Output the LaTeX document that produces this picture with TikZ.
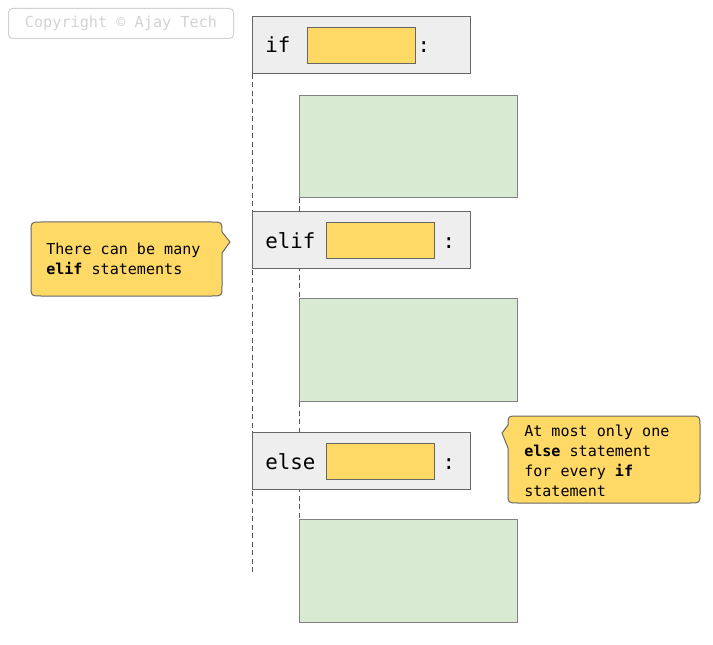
\documentclass[tikz,border=0pt]{standalone}
\usepackage{fontspec}
\setmonofont{DejaVu Sans Mono}
\usetikzlibrary{backgrounds}
\newlength\pxu
\setlength\pxu{0.75pt}
\definecolor{boxgray}{HTML}{EEEEEE}
\definecolor{edgegray}{HTML}{666666}
\definecolor{yel}{HTML}{FFD966}
\definecolor{grn}{HTML}{D9EAD3}
\definecolor{grnedge}{HTML}{828282}
\definecolor{faint}{HTML}{D2D2D2}
\definecolor{dashgray}{HTML}{555555}
\begin{document}
\begin{tikzpicture}[x=0.75pt,y=-0.75pt,
  graybox/.style={draw=edgegray, fill=boxgray, line width=1\pxu, minimum width=218\pxu, minimum height=57\pxu, anchor=north west, inner sep=0pt},
  yelbox/.style={draw=edgegray, fill=yel, line width=1\pxu, minimum width=108\pxu, minimum height=36\pxu, anchor=north west, inner sep=0pt},
  grnbox/.style={draw=grnedge, fill=grn, line width=1\pxu, minimum width=218\pxu, minimum height=103\pxu, anchor=north west, inner sep=0pt},
  kw/.style={font=\ttfamily\fontsize{15.6}{18}\selectfont, anchor=base west, inner sep=0pt},
  colon/.style={font=\ttfamily\fontsize{15.6}{18}\selectfont, anchor=base, inner sep=0pt},
  notetext/.style={font=\ttfamily\fontsize{11.3}{15}\selectfont, align=left, anchor=base west, inner sep=0pt},
  callout/.style={draw=edgegray, fill=yel, line width=1\pxu},
  guide/.style={draw=dashgray, line width=1\pxu, dash pattern=on 5\pxu off 3.5\pxu}
]
\useasboundingbox (0,0) rectangle (713,645);

% copyright
\node[draw=faint, rounded corners=4\pxu, line width=1\pxu, minimum width=225\pxu, minimum height=30\pxu, anchor=north west, inner sep=0pt, text=faint, font=\ttfamily\fontsize{11.4}{14}\selectfont] (copy) at (8,8) {Copyright © Ajay Tech};

% header boxes
\node[graybox] (ifbox) at (252,16) {};
\node[yelbox] (ifcond) at (307,27) {};
\node[kw] (iflbl) at (265,53) {if};
\node[colon] (ifcolon) at (424,53) {:};

\node[grnbox, minimum height=102\pxu] (body1) at (299,95) {};

\node[graybox] (elifbox) at (252,211) {};
\node[yelbox] (elifcond) at (326,222) {};
\node[kw] (eliflbl) at (265,248) {elif};
\node[colon] (elifcolon) at (449,248) {:};

\node[grnbox] (body2) at (299,298) {};

\node[graybox] (elsebox) at (252,432) {};
\node[yelbox] (elsecond) at (326,443) {};
\node[kw] (elselbl) at (265,469) {else};
\node[colon] (elsecolon) at (449,469) {:};

\node[grnbox] (body3) at (299,519) {};

\coordinate (leftend) at (252,572);

\begin{scope}[on background layer]
  \draw[guide] (ifbox.south west) -- (leftend);
  \draw[guide] (body1.south west) -- (body3.north west);
\end{scope}

% callout 1
\draw[callout] (230,242) -- (222,253) -- (222,286) .. controls (222,296) .. (212,296)
  -- (41,296) .. controls (31,296) .. (31,286) -- (31,232) .. controls (31,222) .. (41,222)
  -- (212,222) .. controls (222,222) .. (222,232) -- cycle;
\node[notetext] (note1) at (46,274.5) {There can be many\\\textbf{elif} statements};

% callout 2
\draw[callout] (502,433) -- (508,425) .. controls (508,416) .. (518,416)
  -- (690,416) .. controls (700,416) .. (700,426) -- (700,493) .. controls (700,503) .. (690,503)
  -- (518,503) .. controls (508,503) .. (508,493) -- (508,448) -- cycle;
\node[notetext] (note2) at (524,496) {At most only one\\\textbf{else} statement\\for every \textbf{if}\\statement};
\end{tikzpicture}
\end{document}
